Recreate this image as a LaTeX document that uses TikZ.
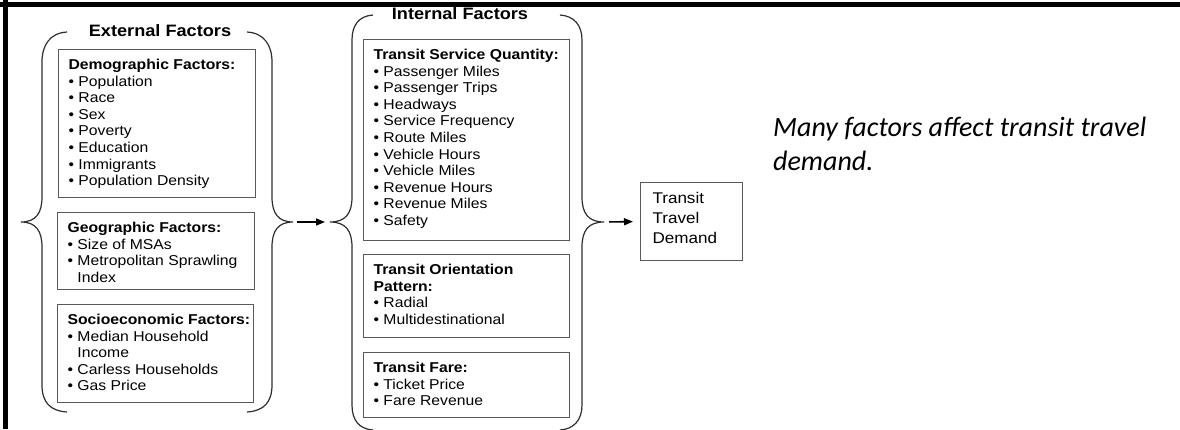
\documentclass[tikz,border=0pt]{standalone}
\usepackage{fontspec}
\setmainfont[FakeStretch=1.1]{Liberation Sans}
\newfontfamily\calibfont{Carlito}
\usetikzlibrary{arrows.meta}
\definecolor{boxgray}{gray}{0.35}
\definecolor{brcgray}{gray}{0.18}
\newcommand\bxt[3]{\parbox[c][#2][t]{#1}{\raggedright\vspace*{9.5pt}\fontsize{14.3pt}{16.6pt}\selectfont #3}}
\newcommand\itm{\textbullet\ }
\newcommand\cont{\phantom{\textbullet\ }}
\tikzset{
  fbx/.style={draw=boxgray, line width=1.1pt, inner xsep=10pt, inner ysep=0pt, anchor=north west},
  brc/.style={draw=brcgray, line width=1.2pt},
  grptitle/.style={font=\bfseries\fontsize{16.5pt}{18pt}\selectfont, inner sep=0pt},
  arr/.style={line width=1.6pt, -{Triangle[length=9pt,width=7pt]}}
}
\begin{document}
\begin{tikzpicture}[x=1pt,y=-1pt]
\useasboundingbox (0,0) rectangle (1180,429);
% frame
\fill[black] (0,2) rectangle (1180,6.5);
\fill[black] (3,0) rectangle (7.5,429);

% external group
\node[grptitle] (exttitle) at (160,31) {External Factors};
\draw[brc] (67,32) .. controls (50,33) and (42,45) .. (42,62) -- (42,197)
  .. controls (42,213) and (36,222) .. (21,222)
  .. controls (36,222) and (42,231) .. (42,247) -- (42,385)
  .. controls (42,402) and (50,411) .. (67,412);
\draw[brc] (247,32) .. controls (264,33) and (272,45) .. (272,62) -- (272,197)
  .. controls (272,213) and (278,222) .. (293,222)
  .. controls (278,222) and (272,231) .. (272,247) -- (272,385)
  .. controls (272,402) and (264,411) .. (247,412);
\coordinate (extTip) at (293,222);

\node[fbx] (demo) at (58,49) {\bxt{177pt}{148pt}{\mbox{\textbf{Demographic Factors:}}\\
\itm Population\\ \itm Race\\ \itm Sex\\ \itm Poverty\\ \itm Education\\ \itm Immigrants\\ \itm Population Density}};
\node[fbx] (geo) at (57,212) {\bxt{177pt}{77pt}{\mbox{\textbf{Geographic Factors:}}\\
\itm Size of MSAs\\ \itm Metropolitan Sprawling\\ \cont Index}};
\node[fbx] (socio) at (57,304) {\bxt{176pt}{98pt}{\mbox{\textbf{Socioeconomic Factors:}}\\
\itm Median Household\\ \cont Income\\ \itm Carless Households\\ \itm Gas Price}};

% internal group
\node[grptitle] (inttitle) at (460,14) {Internal Factors};
\draw[brc] (373,15) .. controls (359,16) and (352,25) .. (352,40) -- (352,197)
  .. controls (352,213) and (346,222) .. (330,222)
  .. controls (346,222) and (352,231) .. (352,247) -- (352,405)
  .. controls (352,420) and (359,429) .. (373,430);
\draw[brc] (560,15) .. controls (574,16) and (582,25) .. (582,40) -- (582,197)
  .. controls (582,213) and (588,222) .. (604,222)
  .. controls (588,222) and (582,231) .. (582,247) -- (582,405)
  .. controls (582,420) and (574,429) .. (560,430);
\coordinate (intTipL) at (330,222);
\coordinate (intTipR) at (604,222);

\node[fbx] (tsq) at (363,39) {\bxt{186pt}{201pt}{\mbox{\textbf{Transit Service Quantity:}}\\
\itm Passenger Miles\\ \itm Passenger Trips\\ \itm Headways\\ \itm Service Frequency\\ \itm Route Miles\\
\itm Vehicle Hours\\ \itm Vehicle Miles\\ \itm Revenue Hours\\ \itm Revenue Miles\\ \itm Safety}};
\node[fbx] (orient) at (363,254) {\bxt{186pt}{83pt}{\textbf{Transit Orientation}\\ \textbf{Pattern:}\\
\itm Radial\\ \itm Multidestinational}};
\node[fbx] (fare) at (363,352) {\bxt{186pt}{65pt}{\textbf{Transit Fare:}\\
\itm Ticket Price\\ \itm Fare Revenue}};

% result
\node[draw=boxgray, line width=1.1pt, inner xsep=12pt, inner ysep=0pt, anchor=north west] (ttd) at (640,182)
 {\parbox[c][78pt][t]{78pt}{\raggedright\vspace*{10pt}\fontsize{15.5pt}{20pt}\selectfont Transit\\ Travel\\ Demand}};

% arrows
\draw[arr, shorten <=4pt, shorten >=5pt] (extTip) -- (intTipL);
\draw[arr, shorten <=5pt, shorten >=7pt] (intTipR) -- (ttd.west);

% note
\node[anchor=base west, inner sep=0pt] (note) at (773,136)
 {\parbox[t]{400pt}{\calibfont\itshape\fontsize{28pt}{34pt}\selectfont Many factors affect transit travel\\ demand.}};
\end{tikzpicture}
\end{document}
